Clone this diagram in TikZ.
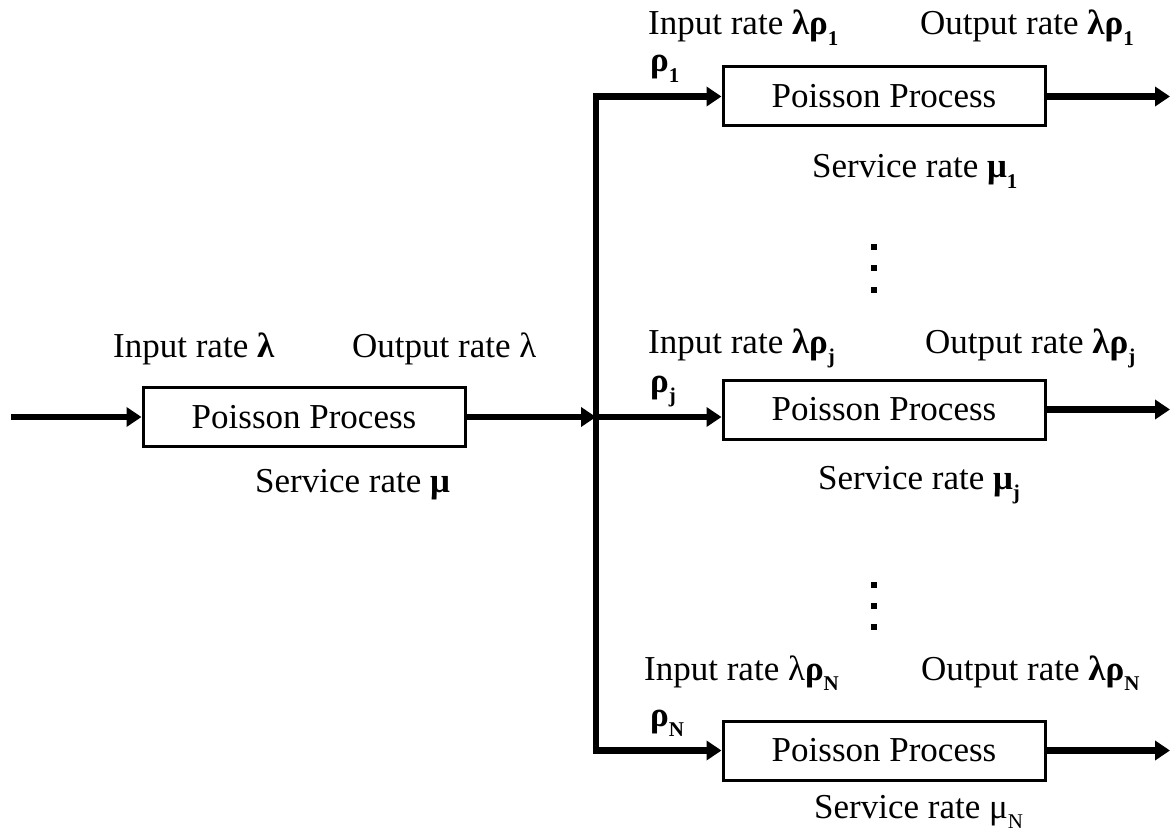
\documentclass[tikz,border=0pt]{standalone}
\usepackage{fontspec}
\setmainfont{Liberation Serif}
\usetikzlibrary{arrows.meta}
% lowered small index after a Greek letter
\newcommand\lsub[1]{\raisebox{-0.3em}{\fontsize{21}{21}\selectfont #1}}

\begin{document}
\begin{tikzpicture}[x=1pt,y=-1pt,
  proc/.style={draw, line width=3pt, minimum width=322pt, minimum height=59pt,
               inner sep=0pt, font=\fontsize{35}{40}\selectfont},
  lbl/.style={inner sep=0pt, anchor=base west, font=\fontsize{35}{40}\selectfont},
  flow/.style={line width=6.5pt, -{Triangle[length=15pt,width=19pt]}},
  busline/.style={line width=6.5pt, line join=miter,
               {Triangle[length=15pt,width=19pt]}-{Triangle[length=15pt,width=19pt]}},
  dotsq/.style={fill=black, draw=none, minimum size=6pt, inner sep=0pt}]

\useasboundingbox (0,0) rectangle (1171,840);

% queues
\node[proc] (p0) at (304,417)   {Poisson Process};
\node[proc] (p1) at (884,96.5)  {Poisson Process};
\node[proc] (pj) at (884,409.5) {Poisson Process};
\node[proc] (pN) at (884,750.5) {Poisson Process};

% reference positions of the feed and the splitting bus
\coordinate (src) at (11,417);
\coordinate (bus) at (596,0);
\coordinate (sink) at (1170,0);

% connectors
\draw[flow] (src) -- (p0.west);
\draw[flow] (p0.east) -- (p0.east -| bus);
\draw[busline] (p1.west) -- (p1.west -| bus) -- (pN.west -| bus) -- (pN.west);
\draw[flow] (p0.east -| bus) -- (p0.east -| pj.west);
\draw[flow] (p1.east) -- (p1.east -| sink);
\draw[flow] (pj.east) -- (pj.east -| sink);
\draw[flow] (pN.east) -- (pN.east -| sink);

% labels of the first stage
\node[lbl] (in0)  at (113,357) {Input rate \textbf{λ}};
\node[lbl] (out0) at (352,357) {Output rate λ};
\node[lbl] (sv0)  at (255,492) {Service rate \textbf{μ}};

% labels of branch 1
\node[lbl] (in1)  at (648,35)  {Input rate \textbf{λρ\lsub{1}}};
\node[lbl] (out1) at (920,35)  {Output rate \textbf{λρ\lsub{1}}};
\node[lbl] (r1)   at (650,72)  {\textbf{ρ\lsub{1}}};
\node[lbl] (sv1)  at (812,178) {Service rate \textbf{μ\lsub{1}}};

% labels of branch j
\node[lbl] (inj)  at (648,353) {Input rate \textbf{λρ\lsub{j}}};
\node[lbl] (outj) at (925,353) {Output rate \textbf{λρ\lsub{j}}};
\node[lbl] (rj)   at (650,392) {\textbf{ρ\lsub{j}}};
\node[lbl] (svj)  at (818,489) {Service rate \textbf{μ\lsub{j}}};

% labels of branch N
\node[lbl] (inN)  at (644,680) {Input rate λ\textbf{ρ\lsub{N}}};
\node[lbl] (outN) at (921,680) {Output rate \textbf{λρ\lsub{N}}};
\node[lbl] (rN)   at (650,726) {\textbf{ρ\lsub{N}}};
\node[lbl] (svN)  at (814,818) {Service rate μ\lsub{N}};

% vertical ellipses between branches
\foreach \y [count=\i] in {247,268,290} {
  \node[dotsq] (da\i) at (874,\y) {};
}
\foreach \y [count=\i] in {585,606,627} {
  \node[dotsq] (db\i) at (874,\y) {};
}
\end{tikzpicture}
\end{document}
